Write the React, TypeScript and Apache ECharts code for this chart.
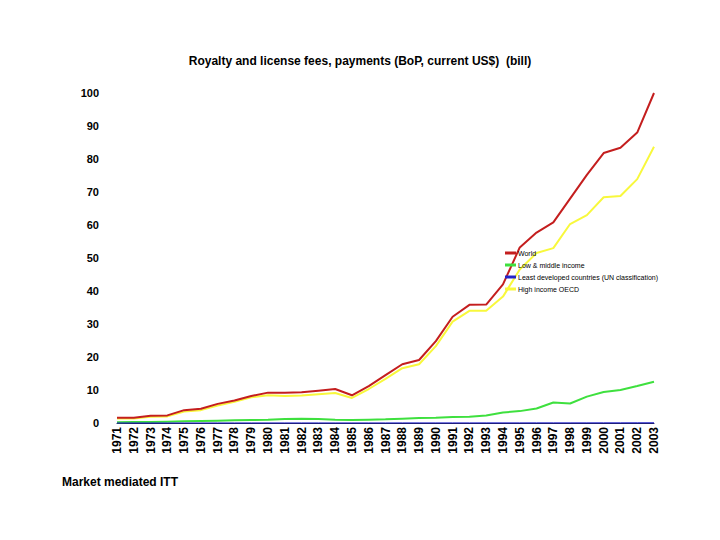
import React, { useEffect, useRef } from "react";
import * as echarts from "echarts";

const years = [
  "1971","1972","1973","1974","1975","1976","1977","1978","1979","1980","1981",
  "1982","1983","1984","1985","1986","1987","1988","1989","1990","1991","1992",
  "1993","1994","1995","1996","1997","1998","1999","2000","2001","2002","2003",
];

const world = [1.6,1.6,2.2,2.3,3.9,4.3,5.8,6.8,8.2,9.2,9.2,9.3,9.8,10.3,8.4,11.2,14.5,17.8,19.1,24.8,32.2,35.8,35.9,42,53.2,57.7,60.8,68,75.2,81.8,83.4,88,100];
const lowMiddle = [0.2,0.3,0.3,0.4,0.5,0.6,0.7,0.8,0.9,1.0,1.2,1.3,1.2,1.0,0.9,1.0,1.1,1.3,1.5,1.6,1.8,1.9,2.3,3.2,3.6,4.4,6.2,5.9,8.0,9.4,10.0,11.2,12.5];
const leastDeveloped = [0.01,0.01,0.01,0.01,0.01,0.01,0.02,0.02,0.02,0.02,0.02,0.02,0.02,0.02,0.02,0.02,0.02,0.03,0.03,0.03,0.03,0.03,0.04,0.04,0.04,0.05,0.05,0.05,0.05,0.06,0.06,0.07,0.08];
const highOECD = [1.4,1.4,1.9,2.0,3.5,3.9,5.3,6.4,7.8,8.4,8.2,8.3,8.7,9.1,7.6,10.3,13.4,16.6,17.8,23.3,30.7,34,34,38.3,46.5,51.5,53,60.3,63,68.4,68.8,73.9,83.7];

const legendNames = [
  "World",
  "Low & middle income",
  "Least developed countries (UN classification)",
  "High income OECD",
];

const FONT = "Liberation Sans, Arial, sans-serif";

export default function App() {
  const ref = useRef<HTMLDivElement>(null);
  useEffect(() => {
    if (!ref.current) return;
    const chart = echarts.init(ref.current, undefined, { renderer: "svg" });
    chart.setOption({
      animation: false,
      backgroundColor: "#ffffff",
      textStyle: { fontFamily: FONT },
      title: [
        {
          text: "Royalty and license fees, payments (BoP, current US$)  (bill)",
          left: "center",
          top: 50,
          textStyle: { fontSize: 12, fontWeight: "bold", color: "#000", fontFamily: FONT },
        },
        {
          text: "Market mediated ITT",
          left: 57,
          top: 471,
          textStyle: { fontSize: 12, fontWeight: "bold", color: "#000", fontFamily: FONT },
        },
      ],
      legend: {
        orient: "vertical",
        left: 500,
        top: 244,
        itemWidth: 11,
        itemHeight: 3,
        itemGap: 4,
        icon: "rect",
        data: legendNames,
        textStyle: { fontSize: 7, lineHeight: 8, color: "#000", fontFamily: FONT, padding: [0, 0, 0, -3] },
      },
      grid: { left: 117, right: 66, top: 93, bottom: 117, containLabel: false },
      xAxis: {
        type: "category",
        data: years,
        boundaryGap: false,
        axisLine: { lineStyle: { color: "#1c1c6e", width: 1 } },
        axisTick: { show: false },
        axisLabel: {
          rotate: 90,
          margin: 4,
          fontSize: 12,
          fontWeight: "bold",
          color: "#000",
          fontFamily: FONT,
          interval: 0,
        },
        splitLine: { show: false },
      },
      yAxis: {
        type: "value",
        min: 0,
        max: 100,
        interval: 10,
        axisLine: { show: false },
        axisTick: { show: false },
        splitLine: { show: false },
        axisLabel: {
          margin: 18,
          fontSize: 11,
          fontWeight: "bold",
          color: "#000",
          fontFamily: FONT,
        },
      },
      series: [
        {
          name: "High income OECD",
          type: "line",
          data: highOECD,
          symbol: "none",
          lineStyle: { color: "#f8f83c", width: 2 },
          itemStyle: { color: "#f8f83c" },
        },
        {
          name: "Low & middle income",
          type: "line",
          data: lowMiddle,
          symbol: "none",
          lineStyle: { color: "#3ee03e", width: 2 },
          itemStyle: { color: "#3ee03e" },
        },
        {
          name: "Least developed countries (UN classification)",
          type: "line",
          data: leastDeveloped,
          symbol: "none",
          lineStyle: { color: "#2424c8", width: 1 },
          itemStyle: { color: "#2424c8" },
        },
        {
          name: "World",
          type: "line",
          data: world,
          symbol: "none",
          lineStyle: { color: "#c41e1e", width: 2 },
          itemStyle: { color: "#c41e1e" },
        },
      ],
    });
    return () => chart.dispose();
  }, []);
  return (
    <div
      ref={ref}
      style={{ position: "fixed", left: 0, top: 0, width: 720, height: 540, background: "#fff" }}
    />
  );
}
